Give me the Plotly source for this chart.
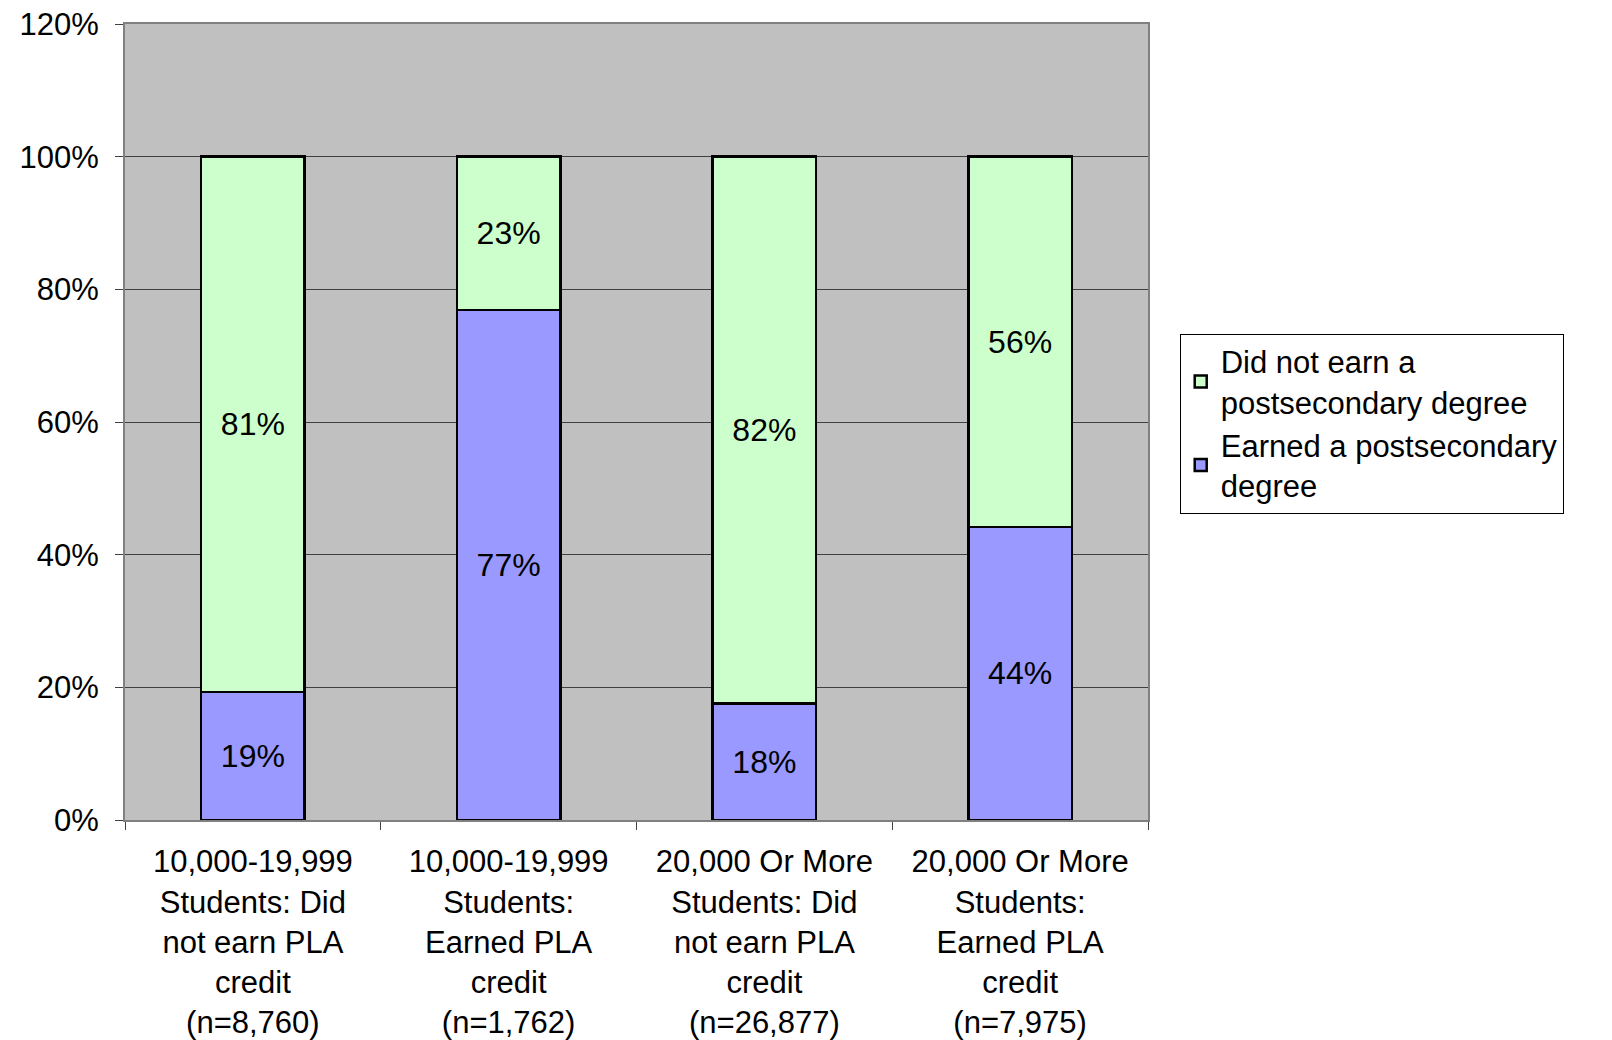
import plotly.graph_objects as go

categories = [
    "10,000-19,999<br>Students: Did<br>not earn PLA<br>credit<br>(n=8,760)",
    "10,000-19,999<br>Students:<br>Earned PLA<br>credit<br>(n=1,762)",
    "20,000 Or More<br>Students: Did<br>not earn PLA<br>credit<br>(n=26,877)",
    "20,000 Or More<br>Students:<br>Earned PLA<br>credit<br>(n=7,975)",
]
cat_ids = ["c1", "c2", "c3", "c4"]
earned = [19.3, 76.9, 17.6, 44.2]
not_earned = [80.7, 23.1, 82.4, 55.8]
y_ticks = [0, 20, 40, 60, 80, 100, 120]
y_tick_labels = ["0%", "20%", "40%", "60%", "80%", "100%", "120%"]

FONT = "Liberation Sans, Arial, sans-serif"

fig = go.Figure()
fig.add_trace(go.Bar(
    x=cat_ids, y=earned, name="Earned a postsecondary<br>degree",
    marker=dict(color="#9999FF", line=dict(color="black", width=2.5)),
    texttemplate="%{y:.0f}%", textposition="inside", insidetextanchor="middle",
    textfont=dict(family=FONT, size=32, color="black"), constraintext="none",
))
fig.add_trace(go.Bar(
    x=cat_ids, y=not_earned, name="Did not earn a<br>postsecondary degree",
    marker=dict(color="#CCFFCC", line=dict(color="black", width=2.5)),
    texttemplate="%{y:.0f}%", textposition="inside", insidetextanchor="middle",
    textfont=dict(family=FONT, size=32, color="black"), constraintext="none",
))

fig.update_layout(
    width=1612, height=1040,
    barmode="stack", bargap=0.595,
    paper_bgcolor="white", plot_bgcolor="#C0C0C0",
    margin=dict(l=117, r=472, t=16, b=228, autoexpand=False),
    font=dict(family=FONT, size=30, color="black"),
    showlegend=True,
    legend=dict(
        x=1.031, y=0.611, xanchor="left", yanchor="top",
        bgcolor="white", bordercolor="black", borderwidth=1,
        font=dict(family=FONT, size=31, color="black"),
        traceorder="reversed", tracegroupgap=16,
    ),
    xaxis=dict(
        type="category", tickmode="array", tickvals=cat_ids, ticktext=categories,
        tickson="boundaries", ticks="outside", ticklen=8, tickcolor="#404040",
        showline=True, linecolor="#808080", linewidth=2, mirror=True,
        showgrid=False, tickfont=dict(family=FONT, size=31, color="black"),
        range=[-0.5, 3.5], automargin=False, ticklabelstandoff=13,
    ),
    yaxis=dict(
        range=[0, 120], tickmode="array", tickvals=y_ticks, ticktext=y_tick_labels,
        ticks="outside", ticklen=8, tickcolor="#404040",
        showline=True, linecolor="#808080", linewidth=2, mirror=True,
        showgrid=True, gridcolor="#404040", gridwidth=1,
        zeroline=False, ticklabelstandoff=10, automargin=False,
        ticklabeloverflow="allow",
        tickfont=dict(family=FONT, size=31, color="black"),
    ),
)

fig.write_html("out.html")
